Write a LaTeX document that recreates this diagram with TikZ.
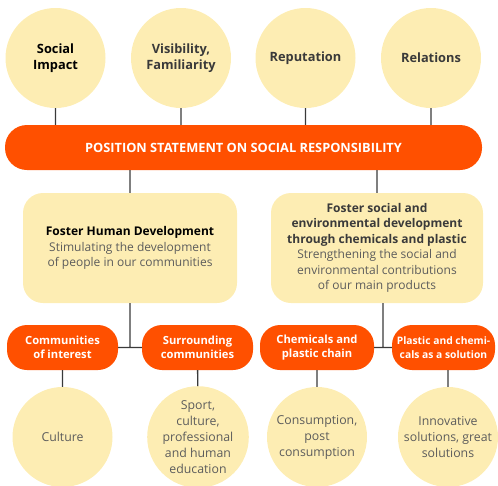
\documentclass[tikz,border=0pt]{standalone}
\usepackage{fontspec}
\setmainfont{Open Sans}
\usetikzlibrary{positioning,calc}
\definecolor{sunyellow}{HTML}{FDEDB3}
\definecolor{brandorange}{HTML}{FF5000}
\definecolor{inkgray}{HTML}{3A3A3A}
\definecolor{softgray}{HTML}{5C5C5C}
\tikzset{
    aspect/.style={circle, fill=sunyellow, minimum size=100pt, inner sep=0pt, align=center, text=inkgray, font=\fontsize{12.8}{16.5}\selectfont\bfseries},
    outcome/.style={circle, fill=sunyellow, minimum size=100pt, inner sep=0pt, align=center, text=softgray, font=\fontsize{12.3}{16}\selectfont},
    banner/.style={rectangle, rounded corners=22pt, fill=brandorange, text=white, minimum height=45pt, font=\fontsize{12.8}{15}\selectfont\bfseries},
    pillar/.style={rectangle, rounded corners=20pt, fill=sunyellow, minimum height=110pt, align=center, text=softgray, font=\fontsize{12}{15.5}\selectfont},
    focus/.style={rectangle, rounded corners=20pt, fill=brandorange, text=white, minimum height=45pt, inner sep=0pt, align=center, font=\fontsize{11.2}{13.5}\selectfont\bfseries},
    link/.style={draw=inkgray, line width=1.3pt}
}
\begin{document}
\begin{tikzpicture}[x=1pt, y=-1pt]
\useasboundingbox (0,0) rectangle (498,485);
\node[aspect, text=black] (c0) at (55.5,58) {Social\\Impact};
\node[aspect] (c1) at (181,58) {Visibility,\\Familiarity};
\node[aspect] (c2) at (305.5,58) {Reputation};
\node[aspect] (c3) at (431,58) {Relations};
\node[banner, minimum width=477pt] (bar) at (243.5,147.5) {POSITION STATEMENT ON SOCIAL RESPONSIBILITY};
\node[pillar, minimum width=214pt] (h0) at (130,248) {{\bfseries\color{black}Foster Human Development}\\Stimulating the development\\of people in our communities};
\node[pillar, minimum width=212pt] (h1) at (377,248) {{\bfseries\color{inkgray}Foster social and}\\{\bfseries\color{inkgray}environmental development}\\{\bfseries\color{inkgray}through chemicals and plastic}\\Strengthening the social and\\environmental contributions\\of our main products};
\node[focus, minimum width=111pt] (o0) at (62.5,347.5) {Communities\\of interest};
\node[focus, minimum width=111pt] (o1) at (197.5,347.5) {Surrounding\\communities};
\node[focus, minimum width=114pt] (o2) at (317,347.5) {Chemicals and\\plastic chain};
\node[focus, minimum width=103pt, font=\fontsize{10.3}{13.5}\selectfont\bfseries] (o3) at (443.5,347.5) {Plastic and chemi-\\cals as a solution};
\node[outcome] (b0) at (62.5,437) {Culture};
\node[outcome] (b1) at (198,437) {Sport,\\culture,\\professional\\and human\\education};
\node[outcome] (b2) at (317,437) {Consumption,\\post\\consumption};
\node[outcome] (b3) at (448,437) {Innovative\\solutions, great\\solutions};
\coordinate (j0) at ($(o0.east)!0.5!(o1.west)$);
\coordinate (j1) at ($(o2.east)!0.5!(o3.west)$);
\draw[link]
    (c0) -- (c0 |- bar.north)
    (c1) -- (c1 |- bar.north)
    (c2) -- (c2 |- bar.north)
    (c3) -- (c3 |- bar.north)
    (h0) -- (h0 |- bar.south)
    (h1) -- (h1 |- bar.south)
    (o0.east) -- (o1.west)
    (o2.east) -- (o3.west)
    (j0) -- (j0 |- h0.south)
    (j1) -- (j1 |- h1.south)
    (o0) -- (b0)
    (o1) -- (b1)
    (o2) -- (b2)
    (b3) -- (b3 |- o3.south);
\end{tikzpicture}
\end{document}
